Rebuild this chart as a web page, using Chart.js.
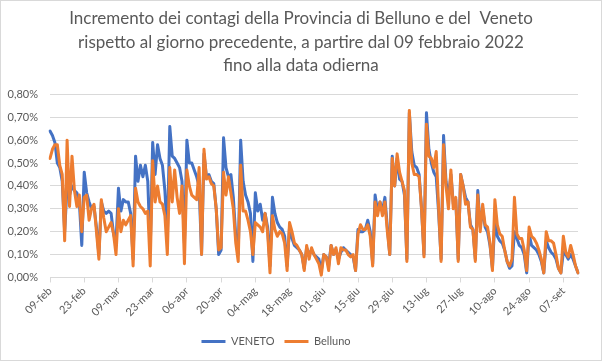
<!DOCTYPE html>
<html><head><meta charset="utf-8">
<script src="https://cdn.jsdelivr.net/npm/chart.js@4"></script>
<style>html,body{margin:0;padding:0;background:#fff}#wrap{width:602px;height:361px;position:relative}</style>
</head><body><div id="wrap"><canvas id="c" width="602" height="361"></canvas></div>
<script>
const titleLines = [
  'Incremento dei contagi della Provincia di Belluno e del  Veneto',
  'rispetto al giorno precedente, a partire dal 09 febbraio 2022',
  'fino alla data odierna'
];
const monthNames = ['gen','feb','mar','apr','mag','giu','lug','ago','set','ott','nov','dic'];
const dayCount = 217;
const categories = [];
for (let i = 0; i < dayCount; i++) {
  const d = new Date(2022, 1, 9 + i);
  categories.push(String(d.getDate()).padStart(2, '0') + '-' + monthNames[d.getMonth()]);
}
const tickStep = 14;
const yTicks = [0, 0.1, 0.2, 0.3, 0.4, 0.5, 0.6, 0.7, 0.8];

const veneto = [
0.64,0.62,0.59,0.50,0.48,0.42,0.20,
0.40,0.36,0.40,0.38,0.37,0.33,0.14,
0.46,0.37,0.33,0.30,0.31,0.22,0.10,
0.33,0.29,0.28,0.29,0.28,0.19,0.15,
0.39,0.29,0.34,0.33,0.33,0.28,0.08,
0.53,0.42,0.49,0.44,0.49,0.42,0.12,
0.59,0.45,0.58,0.52,0.49,0.38,0.18,
0.66,0.53,0.52,0.50,0.48,0.42,0.15,
0.60,0.50,0.50,0.47,0.44,0.40,0.10,
0.54,0.44,0.45,0.42,0.41,0.30,0.10,
0.12,0.61,0.48,0.44,0.45,0.35,0.18,
0.10,0.60,0.42,0.36,0.33,0.28,0.07,
0.37,0.29,0.32,0.25,0.28,0.22,0.05,
0.35,0.28,0.24,0.22,0.21,0.18,0.05,
0.22,0.17,0.14,0.13,0.12,0.10,0.04,
0.13,0.10,0.12,0.10,0.09,0.08,0.03,
0.10,0.09,0.05,0.14,0.10,0.12,0.08,
0.11,0.13,0.12,0.11,0.10,0.09,0.03,
0.21,0.20,0.20,0.21,0.25,0.20,0.06,
0.36,0.29,0.33,0.29,0.35,0.22,0.10,
0.53,0.40,0.52,0.43,0.42,0.36,0.08,
0.72,0.55,0.49,0.48,0.45,0.30,0.10,
0.72,0.56,0.50,0.46,0.44,0.28,0.08,
0.62,0.42,0.35,0.45,0.32,0.34,0.08,
0.45,0.40,0.35,0.33,0.23,0.21,0.08,
0.38,0.22,0.30,0.22,0.20,0.14,0.04,
0.25,0.18,0.16,0.15,0.12,0.07,0.04,
0.05,0.20,0.17,0.14,0.13,0.10,0.02,
0.19,0.14,0.13,0.12,0.10,0.07,0.02,
0.16,0.13,0.11,0.10,0.08,0.04,0.02,
0.11,0.10,0.08,0.10,0.08,0.05,0.02
];
const belluno = [
0.52,0.56,0.58,0.58,0.49,0.45,0.16,
0.60,0.31,0.53,0.38,0.31,0.36,0.20,
0.35,0.36,0.25,0.30,0.32,0.20,0.08,
0.34,0.26,0.20,0.22,0.24,0.19,0.10,
0.30,0.20,0.25,0.23,0.25,0.27,0.05,
0.39,0.33,0.31,0.30,0.28,0.29,0.05,
0.51,0.33,0.40,0.33,0.32,0.27,0.10,
0.48,0.33,0.47,0.35,0.28,0.40,0.06,
0.47,0.40,0.36,0.35,0.34,0.48,0.10,
0.56,0.43,0.44,0.41,0.40,0.30,0.12,
0.13,0.46,0.36,0.44,0.37,0.30,0.15,
0.07,0.49,0.29,0.29,0.25,0.20,0.10,
0.24,0.23,0.22,0.20,0.28,0.20,0.02,
0.27,0.21,0.18,0.20,0.19,0.15,0.03,
0.24,0.20,0.15,0.14,0.12,0.10,0.03,
0.14,0.08,0.13,0.10,0.08,0.06,0.01,
0.10,0.09,0.03,0.14,0.10,0.13,0.06,
0.13,0.12,0.12,0.10,0.09,0.10,0.03,
0.19,0.23,0.21,0.21,0.23,0.18,0.05,
0.33,0.27,0.33,0.27,0.33,0.20,0.10,
0.52,0.40,0.54,0.46,0.42,0.38,0.07,
0.73,0.50,0.45,0.45,0.44,0.30,0.09,
0.67,0.53,0.52,0.48,0.55,0.30,0.07,
0.58,0.40,0.30,0.47,0.30,0.35,0.07,
0.45,0.40,0.32,0.33,0.22,0.21,0.07,
0.36,0.20,0.32,0.23,0.22,0.15,0.03,
0.34,0.23,0.19,0.18,0.12,0.07,0.05,
0.08,0.35,0.19,0.17,0.17,0.12,0.03,
0.22,0.18,0.17,0.15,0.12,0.08,0.02,
0.20,0.16,0.16,0.15,0.10,0.04,0.02,
0.18,0.11,0.09,0.14,0.10,0.05,0.02
];

const gray = '#595959';
const gridColor = '#d9d9d9';
const fontFam = 'Lato, "Open Sans", sans-serif';

const borderPlugin = {
  id: 'outerBorder',
  afterLayout(chart) {
    const lg = chart.legend;
    if (lg) { lg.left -= 25; lg.right -= 25; }
  },
  afterDraw(chart) {
    const ctx = chart.ctx;
    ctx.save();
    ctx.strokeStyle = gridColor;
    ctx.lineWidth = 1;
    ctx.strokeRect(0.5, 0.5, chart.width - 1, chart.height - 1);
    ctx.restore();
  }
};

new Chart(document.getElementById('c'), {
  type: 'line',
  data: {
    labels: categories,
    datasets: [
      { label: 'VENETO', data: veneto, borderColor: '#4472C4', backgroundColor: '#4472C4',
        borderWidth: 3, pointRadius: 0, tension: 0, fill: false, order: 2,
        borderJoinStyle: 'round', borderCapStyle: 'round' },
      { label: 'Belluno', data: belluno, borderColor: '#ED7D31', backgroundColor: '#ED7D31',
        borderWidth: 3, pointRadius: 0, tension: 0, fill: false, order: 1,
        borderJoinStyle: 'round', borderCapStyle: 'round' }
    ]
  },
  options: {
    responsive: false,
    animation: false,
    devicePixelRatio: 1,
    layout: { padding: { left: 0, right: 0, top: 0, bottom: 4 } },
    plugins: {
      title: {
        display: true, text: titleLines, color: gray,
        font: { family: fontFam, size: 17, weight: 'normal', lineHeight: 1.38 },
        padding: { top: 7, bottom: 17 }
      },
      legend: {
        position: 'bottom',
        labels: {
          boxWidth: 24, boxHeight: 3, color: gray, padding: 10,
          font: { family: fontFam, size: 11 },
          sort: (a, b) => a.datasetIndex - b.datasetIndex,
          generateLabels(chart) {
            const items = Chart.defaults.plugins.legend.labels.generateLabels(chart);
            items.forEach(it => { it.lineWidth = 0; it.fillStyle = it.strokeStyle; });
            return items;
          }
        }
      },
      tooltip: { enabled: false }
    },
    scales: {
      x: {
        type: 'category', offset: false,
        grid: { display: true, drawOnChartArea: false, drawTicks: true, tickLength: 5, color: gridColor },
        border: { display: true, color: gridColor },
        ticks: { autoSkip: false, maxRotation: 45, minRotation: 45, color: gray, padding: 2,
                 font: { family: fontFam, size: 11 } },
        afterBuildTicks: s => { s.ticks = s.ticks.filter(t => t.value % tickStep === 0); },
        afterFit: s => { s.height = s.height + 4; }
      },
      y: {
        min: 0, max: 0.8,
        afterBuildTicks: s => { s.ticks = yTicks.map(v => ({ value: v })); },
        ticks: { color: gray, padding: 12, font: { family: fontFam, size: 11 },
                 callback: v => v.toFixed(2).replace('.', ',') + '%' },
        grid: { color: gridColor, drawTicks: false },
        border: { display: false },
        afterFit: s => { s.width = 50; }
      },
      yRight: {
        position: 'right', min: 0, max: 1, display: true,
        grid: { display: false, drawTicks: false },
        border: { display: false },
        ticks: { display: false },
        afterFit: s => { s.width = 24; }
      }
    }
  },
  plugins: [borderPlugin]
});
</script>
</body></html>
